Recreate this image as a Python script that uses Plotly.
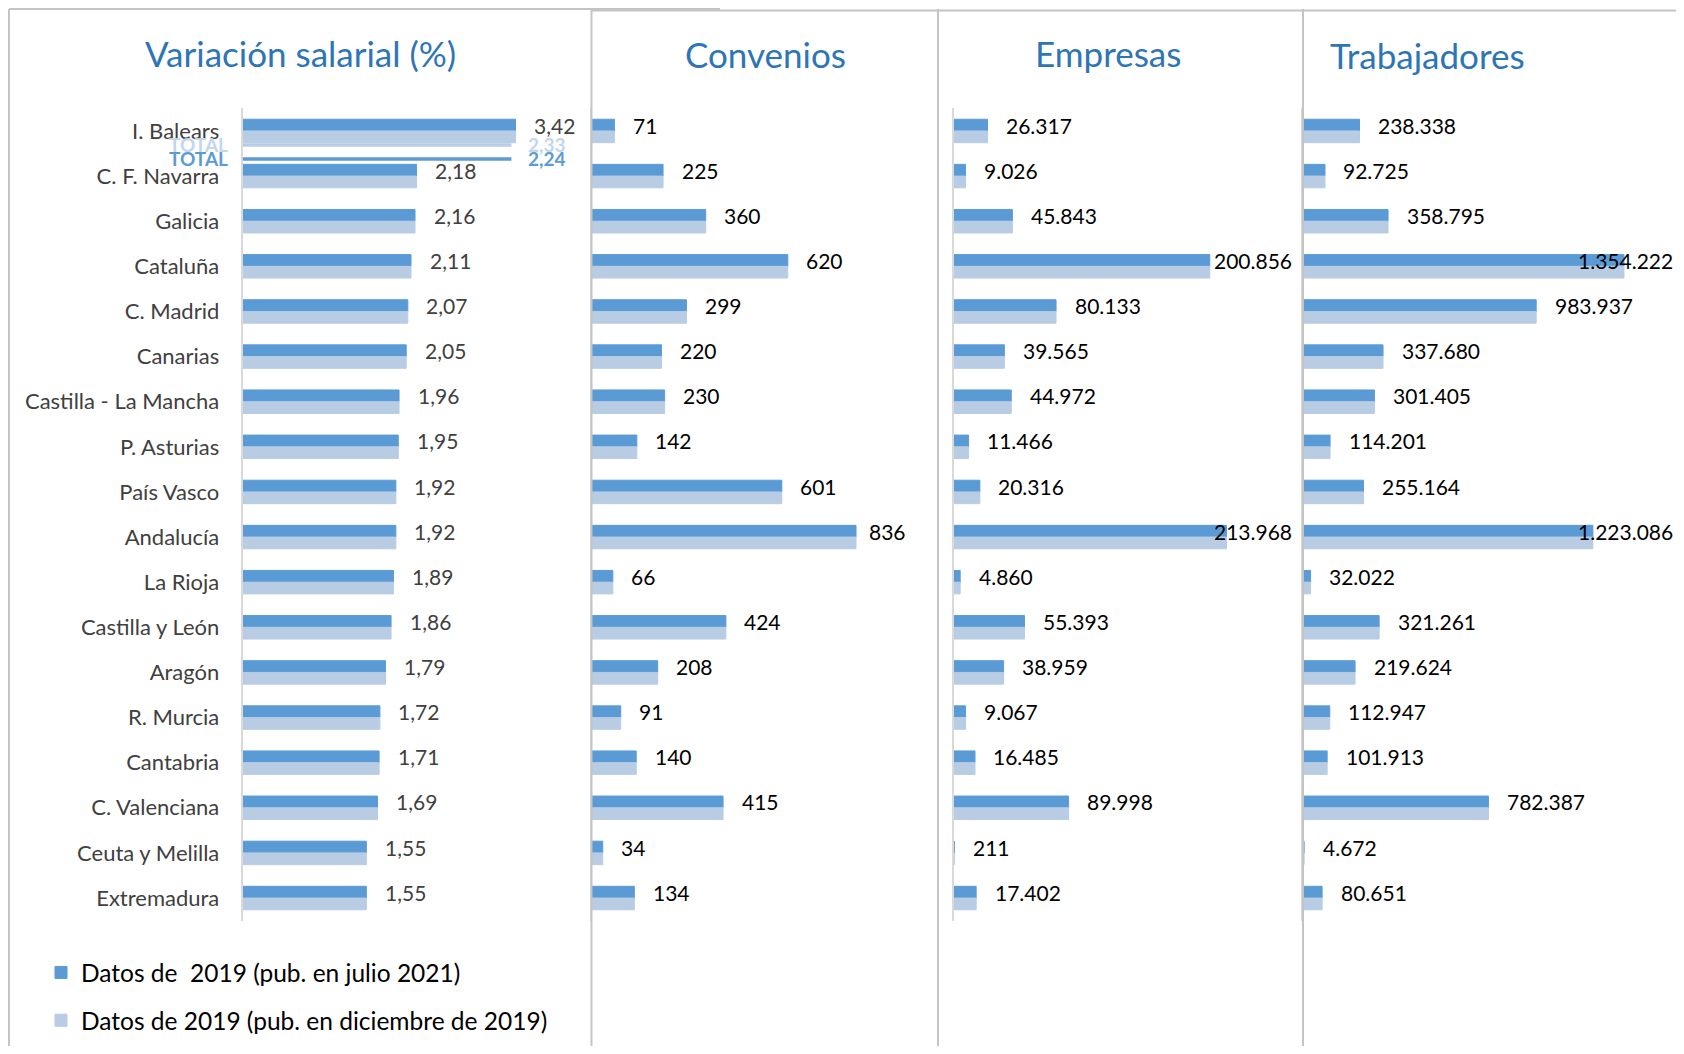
import plotly.graph_objects as go

# ---------------- data ----------------
regions = ["I. Balears", "C. F. Navarra", "Galicia", "Cataluña", "C. Madrid", "Canarias",
           "Castilla - La Mancha", "P. Asturias", "País Vasco", "Andalucía", "La Rioja",
           "Castilla y León", "Aragón", "R. Murcia", "Cantabria", "C. Valenciana",
           "Ceuta y Melilla", "Extremadura"]

var_jul21 = [3.42, 2.18, 2.16, 2.11, 2.07, 2.05, 1.96, 1.95, 1.92, 1.92, 1.89, 1.86, 1.79, 1.72, 1.71, 1.69, 1.55, 1.55]
var_dic19 = [3.42, 2.18, 2.16, 2.11, 2.07, 2.05, 1.96, 1.95, 1.92, 1.92, 1.89, 1.86, 1.79, 1.72, 1.71, 1.69, 1.55, 1.55]

conv_jul21 = [71, 225, 360, 620, 299, 220, 230, 142, 601, 836, 66, 424, 208, 91, 140, 415, 34, 134]
conv_dic19 = [71, 225, 360, 620, 299, 220, 230, 142, 601, 836, 66, 424, 208, 91, 140, 415, 34, 134]

emp_jul21 = [26317, 9026, 45843, 200856, 80133, 39565, 44972, 11466, 20316, 213968, 4860, 55393,
             38959, 9067, 16485, 89998, 211, 17402]
emp_dic19 = [26317, 9026, 45843, 200856, 80133, 39565, 44972, 11466, 20316, 213968, 4860, 55393,
             38959, 9067, 16485, 89998, 211, 17402]

trab_jul21 = [238338, 92725, 358795, 1354222, 983937, 337680, 301405, 114201, 255164, 1223086, 32022,
              321261, 219624, 112947, 101913, 782387, 4672, 80651]
trab_dic19 = [238338, 92725, 358795, 1354222, 983937, 337680, 301405, 114201, 255164, 1223086, 32022,
              321261, 219624, 112947, 101913, 782387, 4672, 80651]

total_jul21 = 2.24
total_dic19 = 2.33

titles = ["Variación salarial (%)", "Convenios", "Empresas", "Trabajadores"]
series_names = ["Datos de \u00a02019 (pub. en julio 2021)", "Datos de 2019 (pub. en diciembre de 2019)"]
total_label = "TOTAL"

# ---------------- style ----------------
PAGE_W, PAGE_H = 1684, 1054
OFF = 8  # default body margin of the html page
W, H = PAGE_W - 2 * OFF, PAGE_H - 2 * OFF  # figure fits the window without scrollbars
FONT = "Lato"
DARK = "#5B9BD5"
LIGHT = "#B8CCE4"
LIGHT_TXT = "#C2D6EE"
TITLE_C = "#2E75B6"
BORDER = "#C4C4C4"
AXIS_C = "#D9D9D9"
BARGAP = 0.48


def px_x(p):
    return (p - OFF) / W


def px_y(p):
    return 1 - (p - OFF) / H


def fmt_dec(v):
    return f"{v:.2f}".replace(".", ",")


def fmt_int(v):
    return f"{v:,}".replace(",", ".")


def est_w(s, size):
    return sum(0.58 * size if c.isdigit() else 0.26 * size for c in s)


# panel: (dark, light, formatter, axis max, x-domain in page px, label colour)
panels = [
    (var_jul21, var_dic19, fmt_dec, 4.3, (242.7, 585.7), "#404040"),
    (conv_jul21, conv_dic19, fmt_int, 1000, (592, 907.8), "#000000"),
    (emp_jul21, emp_dic19, fmt_int, 267000, (954, 1294), "#000000"),
    (trab_jul21, trab_dic19, fmt_int, 1569600, (1303, 1675), "#000000"),
]

ypos = list(range(len(regions)))
ydom = [px_y(920.6), px_y(108.4)]
LBL_SIZE = 21
LBL_SHIFT = 16.5

fig = go.Figure()
annotations = []
layout_axes = {}

for k, (dark, light, fmt, xmax, (d0, d1), lcol) in enumerate(panels, start=1):
    xa = "x" if k == 1 else f"x{k}"
    ya = "y" if k == 1 else f"y{k}"
    fig.add_trace(go.Bar(y=ypos, x=dark, orientation="h", name=series_names[0],
                         marker=dict(color=DARK, line=dict(color=DARK, width=1)),
                         xaxis=xa, yaxis=ya,
                         offsetgroup="a", legendgroup="a", showlegend=(k == 1),
                         hoverinfo="x"))
    fig.add_trace(go.Bar(y=ypos, x=light, orientation="h", name=series_names[1],
                         marker=dict(color=LIGHT, line=dict(color=LIGHT, width=1)),
                         xaxis=xa, yaxis=ya,
                         offsetgroup="b", legendgroup="b", showlegend=(k == 1),
                         hoverinfo="x"))
    xkey = "xaxis" if k == 1 else f"xaxis{k}"
    ykey = "yaxis" if k == 1 else f"yaxis{k}"
    layout_axes[xkey] = dict(domain=[px_x(d0), px_x(d1)], range=[0, xmax], anchor=ya,
                             showgrid=False, zeroline=False, showline=False,
                             showticklabels=False, ticks="", fixedrange=True)
    layout_axes[ykey] = dict(domain=ydom, range=[len(regions) - 0.5, -0.5], anchor=xa,
                             tickmode="array", tickvals=ypos, ticktext=regions,
                             showticklabels=(k == 1), ticks="",
                             ticklabelstandoff=17,
                             tickfont=dict(family=FONT, size=22, color="#404040"),
                             showgrid=False, zeroline=False,
                             showline=True, linecolor=AXIS_C, linewidth=2, fixedrange=True)
    # data labels (next to dark bar; kept inside chart area like Excel does)
    scale = (d1 - d0) / xmax
    dark_off = -(1 - BARGAP) / 4
    for i, v in enumerate(dark):
        txt = fmt(v)
        right_edge = d0 + v * scale + LBL_SHIFT + est_w(txt, LBL_SIZE)
        if right_edge > d1:
            ann = dict(x=xmax, xanchor="right", xshift=0)
        else:
            ann = dict(x=v, xanchor="left", xshift=LBL_SHIFT)
        ann.update(y=ypos[i] + dark_off, yanchor="middle", xref=xa, yref=ya, text=txt,
                   showarrow=False, font=dict(family=FONT, size=LBL_SIZE, color=lcol))
        annotations.append(ann)

# titles
title_pos = [(300, 53), (765, 54), (1108, 53), (1427, 55)]
for t, (cx, cy) in zip(titles, title_pos):
    annotations.append(dict(x=px_x(cx), y=px_y(cy), xref="paper", yref="paper", text=t,
                            showarrow=False, xanchor="center", yanchor="middle",
                            font=dict(family=FONT, size=35, color=TITLE_C)))

# TOTAL reference lines in first panel
line_end = max(var_jul21) * 0.985
shapes = []
for yv, col in [(0.31, LIGHT), (0.62, DARK)]:
    shapes.append(dict(type="line", xref="x", yref="y", x0=0, x1=line_end, y0=yv, y1=yv,
                       line=dict(color=col, width=3.5)))
for yv, col, val in [(0.29, LIGHT_TXT, total_dic19), (0.6, DARK, total_jul21)]:
    annotations.append(dict(x=0, y=yv, xref="x", yref="y", xanchor="right", yanchor="middle",
                            xshift=-13, text=f"<b>{total_label}</b>", showarrow=False,
                            font=dict(family=FONT, size=19, color=col)))
    annotations.append(dict(x=max(var_jul21), y=yv + 0.02, xref="x", yref="y", xanchor="left",
                            yanchor="middle", xshift=10, text=f"<b>{fmt_dec(val)}</b>",
                            showarrow=False, font=dict(family=FONT, size=19, color=col)))

# panel borders
for x in [9, 591.5, 938, 1303]:
    shapes.append(dict(type="line", xref="paper", yref="paper", x0=px_x(x), x1=px_x(x),
                       y0=px_y(9), y1=0, line=dict(color=BORDER, width=2)))
shapes.append(dict(type="line", xref="paper", yref="paper", x0=px_x(9), x1=px_x(720),
                   y0=px_y(9), y1=px_y(9), line=dict(color=BORDER, width=2)))
shapes.append(dict(type="line", xref="paper", yref="paper", x0=px_x(591.5), x1=1,
                   y0=px_y(10.5), y1=px_y(10.5), line=dict(color=BORDER, width=2)))

fig.update_layout(
    width=W, height=H, margin=dict(l=0, r=0, t=0, b=0),
    paper_bgcolor="white", plot_bgcolor="white",
    barmode="group", bargap=BARGAP, bargroupgap=0,
    font=dict(family=FONT),
    showlegend=True,
    legend=dict(x=px_x(41), y=px_y(950), xanchor="left", yanchor="top",
                orientation="v", traceorder="grouped", tracegroupgap=13,
                bgcolor="rgba(0,0,0,0)", borderwidth=0,
                font=dict(family=FONT, size=24.5, color="#000000")),
    annotations=annotations, shapes=shapes,
    **layout_axes,
)

fig.write_html("out.html")
